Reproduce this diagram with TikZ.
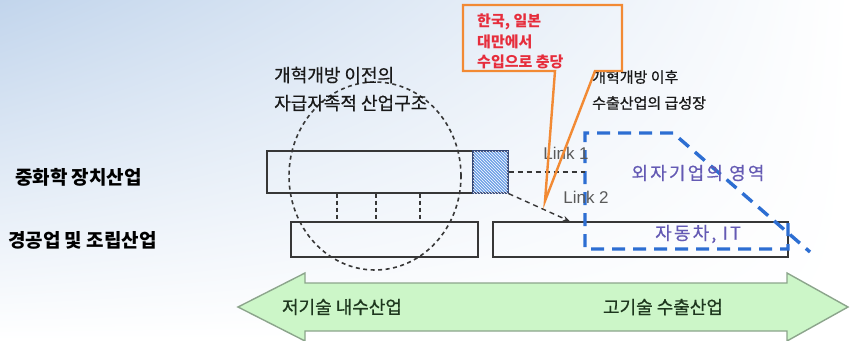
\documentclass[tikz,border=0pt]{standalone}
\usepackage{fontspec}
\setmainfont{Noto Sans CJK KR}
\newfontfamily\latf{Liberation Sans}
\usetikzlibrary{arrows.meta,patterns,shadings}
\definecolor{bgblue}{RGB}{194,213,236}
\definecolor{barline}{RGB}{55,55,55}
\definecolor{hatchblue}{RGB}{110,160,230}
\definecolor{hatchline}{RGB}{50,70,120}
\definecolor{orangeline}{RGB}{242,138,52}
\definecolor{redtext}{RGB}{230,45,60}
\definecolor{bluedash}{RGB}{45,110,210}
\definecolor{purpletext}{RGB}{100,90,180}
\definecolor{greenfill}{RGB}{204,246,200}
\definecolor{greenline}{RGB}{140,165,140}
\definecolor{greentext}{RGB}{30,55,30}
\definecolor{linkgray}{RGB}{90,90,90}
\tikzset{
  barbox/.style={draw=barline, line width=1.4pt, inner sep=0pt},
  hatchbox/.style={draw=hatchline, line width=1.2pt, inner sep=0pt, fill=hatchblue,
    postaction={pattern=north west lines, pattern color=white}},
  vdash/.style={draw=barline, line width=1.4pt, dash pattern=on 4pt off 3pt},
  linkline/.style={draw=barline, line width=1.4pt, dash pattern=on 5pt off 4pt},
  circdash/.style={draw=barline, line width=1.6pt, dash pattern=on 4pt off 3.5pt},
  bluezone/.style={draw=bluedash, line width=3.4pt, dash pattern=on 13pt off 8pt},
  callout/.style={draw=orangeline, line width=2.4pt, line join=miter},
  sidelabel/.style={font=\fontsize{19}{22}\selectfont\bfseries, anchor=west, inner sep=0pt},
  linklabel/.style={font=\latf\fontsize{17}{19}\selectfont, text=linkgray, inner sep=0pt},
  zonelabel/.style={font=\fontsize{18}{20}\selectfont\addfontfeature{LetterSpace=12,FakeBold=0.4}, text=purpletext, inner sep=0pt},
  arrowlabel/.style={font=\fontsize{18}{20}\selectfont\addfontfeature{FakeBold=0.8}, text=greentext, inner sep=0pt},
}
\begin{document}
\begin{tikzpicture}[x=1pt,y=-1pt]
\useasboundingbox (0,0) rectangle (850,340);
\shade[upper left=bgblue, upper right=white, lower left=white, lower right=white] (0,0) rectangle (850,340);

% green double arrow
\draw[fill=greenfill, draw=greenline, line width=1.4pt, line join=miter]
  (238,307) -- (305,273) -- (305,283) -- (787,283) -- (787,273) -- (848,307)
  -- (787,341) -- (787,331) -- (305,331) -- (305,341) -- cycle;
\node[arrowlabel] (lowtech) at (342,307) {저기술 내수산업};
\node[arrowlabel] (hightech) at (663,307) {고기술 수출산업};

% side labels
\node[sidelabel] (heavy) at (15,177) {중화학 장치산업};
\node[sidelabel] (light) at (8,240) {경공업 및 조립산업};

% bars
\node[barbox, minimum width=206pt, minimum height=42pt] (topbar) at (370,172) {};
\node[hatchbox, minimum width=35pt, minimum height=42pt] (hatch) at (490.5,172) {};
\node[barbox, minimum width=187pt, minimum height=35pt] (lbar) at (384.5,239.5) {};
\node[barbox, minimum width=295pt, minimum height=35pt] (rbar) at (640.5,239.5) {};

% vertical dashed links between bars
\coordinate (v1) at (337,0);
\coordinate (v2) at (376,0);
\coordinate (v3) at (420,0);
\draw[vdash] (topbar.south -| v1) -- (lbar.north -| v1);
\draw[vdash] (topbar.south -| v2) -- (lbar.north -| v2);
\draw[vdash] (topbar.south -| v3) -- (lbar.north -| v3);

% dashed circle
\draw[circdash] (375,176) ellipse [x radius=86pt, y radius=94pt];

% text above circle
\node[anchor=west, align=left, inner sep=0pt, text=black!90,
      font=\fontsize{18}{28}\selectfont\addfontfeature{FakeBold=0.5}] (before) at (274,89)
  {개혁개방 이전의\\자급자족적 산업구조};

% text after reform
\node[anchor=west, align=left, inner sep=0pt, text=black!90,
      font=\fontsize{15}{26}\selectfont\addfontfeature{FakeBold=0.8}] (after) at (592,90)
  {개혁개방 이후\\수출산업의 급성장};

% blue zone
\draw[bluezone] (788,223) -- (788,249) -- (585,249) -- (585,133) -- (673,133) -- (810,252);
\node[zonelabel] (fdi) at (698,173) {외자기업의 영역};
\node[zonelabel] (auto) at (698,234) {자동차, IT};

% links
\coordinate (l1end) at (585,172);
\coordinate (l2x) at (570,0);
\draw[linkline] (hatch.east) -- (l1end);
\draw[linkline, -{Stealth[length=7pt,width=5pt]}] (hatch.south east) -- (rbar.north -| l2x);
\node[linklabel] (link1) at (566,153) {Link 1};
\node[linklabel] (link2) at (586,197) {Link 2};

% orange callout
\draw[callout] (463,5) -- (622,5) -- (622,71) -- (595,71) -- (545,201) -- (555,71) -- (463,71) -- cycle;
\node[anchor=west, align=left, inner sep=0pt, text=redtext,
      font=\fontsize{15}{20.5}\selectfont\bfseries] (import) at (477,41.5)
  {한국, 일본\\대만에서\\수입으로 충당};
\end{tikzpicture}
\end{document}
